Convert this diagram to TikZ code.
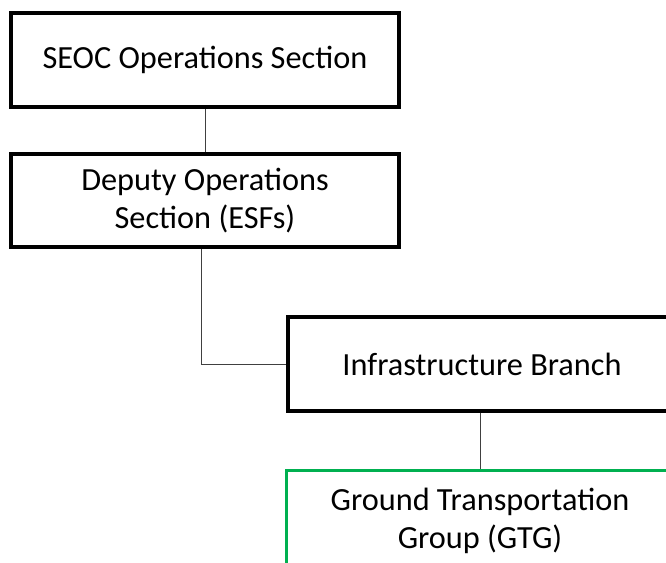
\documentclass[tikz,border=0pt]{standalone}
\usepackage{fontspec}
\setmainfont{Carlito}
\definecolor{boxgreen}{RGB}{0,176,80}
\tikzset{
  unit/.style={draw, line width=3.8pt, minimum width=388pt, minimum height=94pt,
    align=center, inner sep=0pt, font=\fontsize{32.3}{38}\selectfont},
  link/.style={black!75, line width=1pt}
}
\begin{document}
\begin{tikzpicture}[x=1pt, y=-1pt]
\useasboundingbox (0,0) rectangle (666,562);
\clip (0,0) rectangle (666,562);
\node[unit] (seoc) at (205,60) {SEOC Operations Section};
\node[unit, minimum height=93pt] (deputy) at (205,200.5) {Deputy Operations\\Section (ESFs)};
\node[unit] (infra) at (482,364) {Infrastructure Branch};
\node[unit, draw=boxgreen, line width=3pt, minimum height=100pt] (gtg) at (480,520.5) {Ground Transportation\\Group (GTG)};
\draw[link] (seoc.south) -- (deputy.north);
\draw[link] ([xshift=-4pt]deputy.south) |- (infra.west);
\draw[link] (gtg.north |- infra.south) -- (gtg.north);
\end{tikzpicture}
\end{document}
